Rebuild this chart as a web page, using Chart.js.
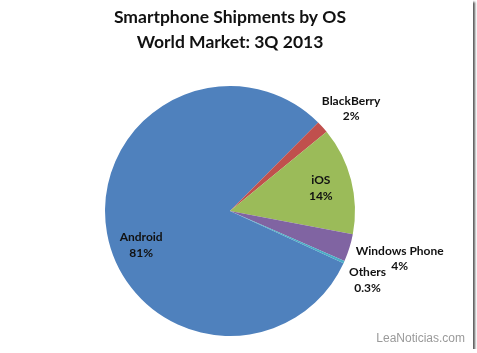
<!DOCTYPE html>
<html lang="en">
  <head>
    <meta charset="UTF-8" />
    <title>Smartphone Shipments by OS</title>
    <script src="https://cdn.jsdelivr.net/npm/chart.js"></script>
    <style>
      body { margin: 0; background: #fff; }
      #frame {
        position: relative;
        width: 473px;
        height: 349px;
        background: #fff;
        box-shadow: 2px 2px 2px rgba(0, 0, 0, 0.65);
      }
      #mark {
        position: absolute;
        right: 8px;
        bottom: 4px;
        font: 12px "Liberation Sans", Arial, sans-serif;
        color: #9a9a9a;
        text-shadow: 0 0 2px #fff;
      }
    </style>
  </head>
  <body>
    <div id="frame">
      <canvas id="osChart" width="473" height="349"></canvas>
      <div id="mark">LeaNoticias.com</div>
    </div>

    <script>
      const labels = ["Android", "BlackBerry", "iOS", "Windows Phone", "Others"];
      const shares = [80.6, 1.6, 13.9, 3.6, 0.3];
      const shareText = ["81%", "2%", "14%", "4%", "0.3%"];
      const colors = ["#4f81bd", "#c0504d", "#9bbb59", "#8064a2", "#4bacc6"];

      // where each label sits: fraction of radius, small angle nudge (deg)
      const labelRadius = [0.76, 1.27, 0.75, 1.41, 1.23];
      const labelNudge = [-10.5, 2, 0, -1.5, 2.4];

      const sliceLabels = {
        id: "sliceLabels",
        afterDatasetsDraw(chart) {
          const ctx = chart.ctx;
          const arcs = chart.getDatasetMeta(0).data;
          ctx.save();
          ctx.font = "bold 12px Lato";
          ctx.fillStyle = "#111";
          ctx.textAlign = "center";
          ctx.textBaseline = "middle";
          arcs.forEach((arc, i) => {
            const mid = (arc.startAngle + arc.endAngle) / 2 + (labelNudge[i] * Math.PI) / 180;
            const r = arc.outerRadius * labelRadius[i];
            const x = arc.x + Math.cos(mid) * r;
            const y = arc.y + Math.sin(mid) * r;
            ctx.fillText(labels[i], x, y - 7.5);
            ctx.fillText(shareText[i], x, y + 8);
          });
          ctx.restore();
        },
      };

      new Chart(document.getElementById("osChart"), {
        type: "pie",
        data: {
          labels,
          datasets: [
            {
              data: shares,
              backgroundColor: colors,
              borderWidth: 0,
            },
          ],
        },
        options: {
          responsive: false,
          animation: false,
          rotation: 114.7,
          layout: { padding: { left: 105, right: 118, top: 0, bottom: 13 } },
          plugins: {
            legend: { display: false },
            tooltip: { enabled: false },
            title: {
              display: true,
              text: ["Smartphone Shipments by OS", "World Market: 3Q 2013"],
              color: "#111",
              font: { family: "Lato", size: 17.5, weight: "bold", lineHeight: 1.43 },
              padding: { top: 4.5, bottom: 31.5 },
            },
          },
        },
        plugins: [sliceLabels],
      });
    </script>
  </body>
</html>
